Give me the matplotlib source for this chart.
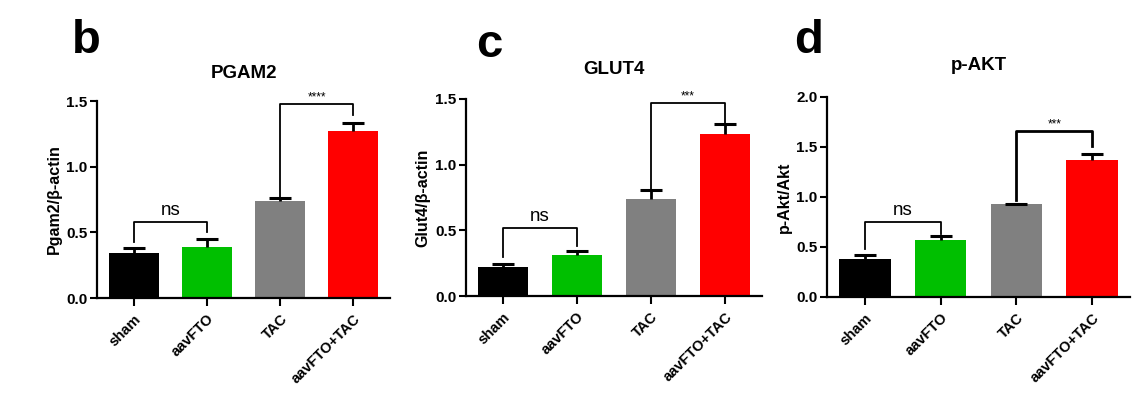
import numpy as np
import matplotlib
matplotlib.use("Agg")
import matplotlib.pyplot as plt

plt.rcParams['font.family'] = ['Liberation Sans', 'DejaVu Sans']
plt.rcParams['font.weight'] = 'bold'

groups = ["sham", "aavFTO", "TAC", "aavFTO+TAC"]
colors = ["#000000", "#00bf00", "#808080", "#ff0000"]

pgam2_mean = [0.34, 0.39, 0.74, 1.27]
pgam2_sem = [0.04, 0.06, 0.02, 0.06]
glut4_mean = [0.22, 0.31, 0.74, 1.23]
glut4_sem = [0.02, 0.03, 0.07, 0.08]
pakt_mean = [0.38, 0.57, 0.93, 1.37]
pakt_sem = [0.04, 0.04, 0.005, 0.06]

# brackets: (left bar, right bar, height, left leg end, right leg end, label)
pgam2_sig = [(0, 1, 0.58, 0.43, 0.50, "ns"), (2, 3, 1.48, 0.77, 1.39, "****")]
glut4_sig = [(0, 1, 0.52, 0.30, 0.38, "ns"), (2, 3, 1.47, 0.81, 1.31, "***")]
pakt_sig = [(0, 1, 0.75, 0.48, 0.63, "ns"), (2, 3, 1.66, 0.97, 1.51, "***")]

W, H = 1145, 395
fig = plt.figure(figsize=(W / 100, H / 100), dpi=100)

panels = [
    # letter, title, ylabel, mean, sem, sig, ymax, yticks, box px (left, top, right, bottom), letter px, title y px
    ("b", "PGAM2", "Pgam2/β-actin", pgam2_mean, pgam2_sem, pgam2_sig, 1.5,
     [0, 0.5, 1.0, 1.5], (97, 101, 390, 298), (72, 53), 73),
    ("c", "GLUT4", "Glut4/β-actin", glut4_mean, glut4_sem, glut4_sig, 1.5,
     [0, 0.5, 1.0, 1.5], (466, 99, 762, 296), (476, 57), 70),
    ("d", "p-AKT", "p-Akt/Akt", pakt_mean, pakt_sem, pakt_sig, 2.0,
     [0, 0.5, 1.0, 1.5, 2.0], (827, 97, 1130, 297), (794, 53), 66),
]

x = np.arange(len(groups))

for letter, title, ylab, mean, sem, sig, ymax, yt, box, lpos, ty in panels:
    l, t, r, b = box
    ax = fig.add_axes([l / W, 1 - b / H, (r - l) / W, (b - t) / H])
    ax.bar(x, mean, width=0.68, color=colors, zorder=2)
    eb = ax.errorbar(x, mean, yerr=[np.zeros(len(mean)), sem], fmt='none', ecolor='k',
                     elinewidth=2, capsize=8, capthick=2.2, zorder=3)
    eb[1][0].set_visible(False)  # only the upper cap
    for i, j, y, yl, yr, lab in sig:
        lw = 2.0 if (letter == "d" and lab != "ns") else 1.3
        ax.plot([x[i], x[i], x[j], x[j]], [yl, y, y, yr], color='k', lw=lw,
                clip_on=False, zorder=4)
        if lab == "ns":
            ax.text((x[i] + x[j]) / 2, y + 0.02 * ymax / 1.5, lab, ha='center', va='bottom',
                    fontsize=13.5, fontweight='normal')
        else:
            ax.text((x[i] + x[j]) / 2, y + 0.005, lab, ha='center', va='bottom',
                    fontsize=8.5, fontweight='normal')
    ax.set_xlim(-0.5, 3.5)
    ax.set_ylim(0, ymax)
    ax.set_yticks(yt)
    ax.set_yticklabels([f"{v:.1f}" for v in yt], fontsize=11, fontweight='bold')
    ax.set_xticks(x)
    ax.set_xticklabels(groups, rotation=45, ha='right', rotation_mode='anchor',
                       fontsize=10.5, fontweight='bold')
    ax.set_ylabel(ylab, fontsize=11.5, fontweight='bold', labelpad=3)
    ax.spines['top'].set_visible(False)
    ax.spines['right'].set_visible(False)
    ax.spines['left'].set_linewidth(1.6)
    ax.spines['bottom'].set_linewidth(1.6)
    ax.tick_params(axis='both', width=1.5, length=5, direction='out')
    ax.tick_params(axis='y', pad=2)
    ax.tick_params(axis='x', length=6, pad=4)
    fig.text((l + r) / 2 / W, 1 - ty / H, title, ha='center', va='center',
             fontsize=13.5, fontweight='bold')
    fig.text(lpos[0] / W, 1 - lpos[1] / H, letter, ha='left', va='baseline',
             fontsize=34, fontweight='bold')

fig.savefig("out.png", dpi=100)
